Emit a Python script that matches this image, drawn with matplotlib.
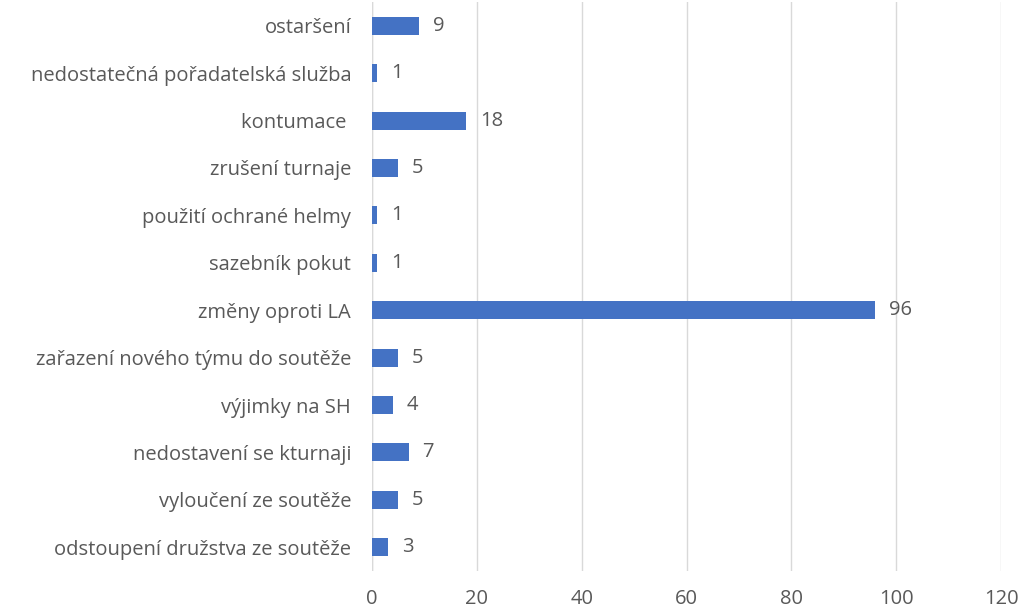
import matplotlib
matplotlib.use("Agg")
import matplotlib.pyplot as plt

categories = [
    "ostaršení",
    "nedostatečná pořadatelská služba",
    "kontumace ",
    "zrušení turnaje",
    "použití ochrané helmy",
    "sazebník pokut",
    "změny oproti LA",
    "zařazení nového týmu do soutěže",
    "výjimky na SH",
    "nedostavení se kturnaji",
    "vyloučení ze soutěže",
    "odstoupení družstva ze soutěže",
]
values = [9, 1, 18, 5, 1, 1, 96, 5, 4, 7, 5, 3]
xticks = [0, 20, 40, 60, 80, 100, 120]

plt.rcParams['font.family'] = ['Open Sans', 'DejaVu Sans']
txt = '#595959'

fig = plt.figure(figsize=(10.2, 6.1), dpi=100)
ax = fig.add_axes([372/1020, 1 - 571/610, (1001-372)/1020, 569/610])

pos = list(range(len(categories)))
ax.barh(pos, values, height=0.38, color='#4472C4', zorder=3)
ax.set_ylim(len(categories) - 0.5, -0.5)
ax.set_xlim(0, 120)
ax.set_xticks(xticks)
ax.set_yticks(pos)
ax.set_yticklabels(categories)
ax.tick_params(axis='both', length=0, colors=txt, labelsize=14.5)
ax.tick_params(axis='y', pad=15)
ax.tick_params(axis='x', pad=13)
ax.grid(axis='x', color='#d9d9d9', linewidth=1, zorder=0)
for s in ax.spines.values():
    s.set_visible(False)
ax.axvline(0, color='#d9d9d9', linewidth=1, zorder=2)

for p, v in zip(pos, values):
    ax.annotate(str(v), (v, p), xytext=(10, 0), textcoords='offset points',
                va='center', ha='left', color=txt, fontsize=14.5)

fig.savefig("out.png", dpi=100)
